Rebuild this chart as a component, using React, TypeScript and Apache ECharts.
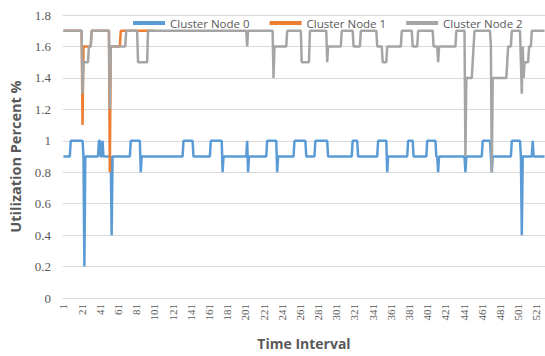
import React, { useEffect, useRef } from "react";
import * as echarts from "echarts";

// Run-length readings: [value, number of consecutive time intervals]
const node0Runs: [number, number][] = [
  [0.9, 8], [1.0, 14], [0.9, 1], [0.2, 1], [0.9, 15], [1.0, 2], [0.9, 2], [1.0, 1],
  [0.9, 9], [0.4, 1], [0.9, 20], [1.0, 11], [0.8, 1], [0.9, 46], [1.0, 11], [0.9, 19],
  [1.0, 13], [0.8, 1], [0.9, 26], [1.0, 1], [0.8, 1], [0.9, 20], [1.0, 11], [0.8, 1],
  [0.9, 18], [1.0, 13], [0.9, 10], [1.0, 14], [0.9, 27], [1.0, 6], [0.9, 22], [1.0, 10],
  [0.8, 1], [0.9, 22], [1.0, 6], [0.9, 15], [1.0, 10], [0.9, 2], [0.8, 1], [0.9, 29],
  [0.8, 1], [0.9, 18], [1.0, 9], [0.9, 1], [0.8, 1], [0.9, 21], [1.0, 10], [0.9, 1],
  [0.4, 1], [0.9, 11], [1.0, 1], [0.9, 13],
];

const node1Runs: [number | null, number][] = [
  [1.7, 21], [1.1, 1], [1.6, 9], [1.7, 20], [0.8, 1], [1.6, 11], [1.7, 38], [null, 429],
];

const node2Runs: [number, number][] = [
  [1.7, 21], [1.3, 1], [1.5, 6], [1.6, 3], [1.7, 20], [1.2, 1], [1.6, 17], [1.7, 13],
  [1.5, 11], [1.7, 109], [1.6, 1], [1.7, 28], [1.4, 1], [1.6, 14], [1.7, 16], [1.5, 9],
  [1.7, 19], [1.5, 1], [1.6, 15], [1.7, 13], [1.6, 8], [1.7, 18], [1.6, 6], [1.5, 5],
  [1.6, 16], [1.7, 12], [1.6, 6], [1.7, 17], [1.6, 5], [1.5, 1], [1.6, 19], [1.7, 10],
  [0.9, 1], [1.4, 7], [1.5, 1], [1.6, 1], [1.7, 18], [1.6, 1], [0.8, 1], [1.4, 16],
  [1.5, 1], [1.6, 4], [1.7, 10], [1.5, 1], [1.3, 1], [1.6, 1], [1.4, 1], [1.5, 1],
  [1.5, 4], [1.6, 3], [1.7, 15],
];

const seriesNames = ["Cluster Node 0", "Cluster Node 1", "Cluster Node 2"];
const yTicks = { min: 0, max: 1.8, interval: 0.2 };
const intervalCount = 530;

function expand(runs: [number | null, number][]): (number | null)[] {
  const out: (number | null)[] = [];
  runs.forEach(([v, n]) => {
    for (let i = 0; i < n; i++) out.push(v);
  });
  return out;
}

const categories: string[] = Array.from({ length: intervalCount }, (_, i) => String(i + 1));

export default function App() {
  const ref = useRef<HTMLDivElement>(null);
  useEffect(() => {
    if (!ref.current) return;
    const chart = echarts.init(ref.current, undefined, { renderer: "svg" });
    const colors = ["#5b9bd5", "#ed7d31", "#a5a5a5"];
    const data = [expand(node0Runs), expand(node1Runs), expand(node2Runs)];
    chart.setOption({
      animation: false,
      color: colors,
      grid: { left: 62, right: 0, top: 15, bottom: 58 },
      legend: {
        top: 12,
        left: 128,
        itemWidth: 32,
        itemHeight: 4,
        itemGap: 20,
        icon: "rect",
        textStyle: { color: "#595959", fontSize: 11.5, fontFamily: "Open Sans" },
        data: seriesNames,
      },
      xAxis: {
        type: "category",
        data: categories,
        name: "Time Interval",
        nameLocation: "middle",
        nameGap: 38,
        nameTextStyle: { fontSize: 14, fontWeight: "bold", color: "#595959", fontFamily: "Open Sans" },
        axisLine: { lineStyle: { color: "#d9d9d9" } },
        axisTick: { show: false },
        axisLabel: {
          interval: 19,
          rotate: 90,
          color: "#595959",
          fontSize: 11,
          fontFamily: "Liberation Serif",
          margin: 6,
        },
      },
      yAxis: {
        type: "value",
        min: yTicks.min,
        max: yTicks.max,
        interval: yTicks.interval,
        name: "Utilization Percent %",
        nameLocation: "middle",
        nameGap: 40,
        nameTextStyle: { fontSize: 14.5, fontWeight: "bold", color: "#595959", fontFamily: "Open Sans" },
        axisLine: { show: false },
        axisTick: { show: false },
        splitLine: { lineStyle: { color: "#d9d9d9" } },
        axisLabel: {
          color: "#595959",
          fontSize: 13,
          fontFamily: "Liberation Serif",
          margin: 12,
          formatter: (v: number) => String(Math.round(v * 10) / 10),
        },
      },
      series: seriesNames.map((name, i) => ({
        name,
        type: "line",
        data: data[i],
        symbol: "none",
        lineStyle: { width: 2.5, color: colors[i] },
        z: i + 2,
      })),
    });
    return () => chart.dispose();
  }, []);
  return <div ref={ref} style={{ width: 545, height: 356, position: "absolute", left: 0, top: 0 }} />;
}
